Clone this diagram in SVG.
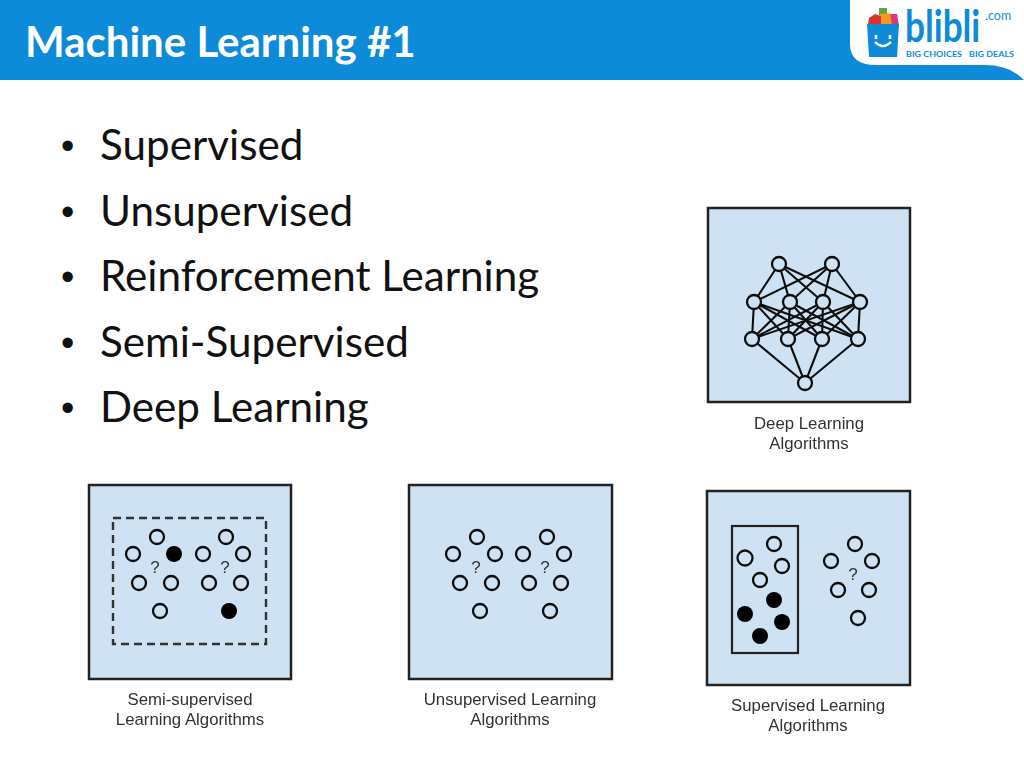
<svg xmlns="http://www.w3.org/2000/svg" width="1024" height="768" viewBox="0 0 1024 768">
<defs><filter id="soft" x="-5%" y="-5%" width="110%" height="110%"><feGaussianBlur stdDeviation="0.45"/></filter></defs>
<style>
.panel{fill:#cfe2f3;stroke:#222;stroke-width:2.5}
.n{fill:none;stroke:#111;stroke-width:2.3}
.deep{fill:#cfe2f3;stroke:#111;stroke-width:2.3}
.f{fill:#000}
.e line{stroke:#111;stroke-width:2.1}
.q{font:17px "Liberation Sans",Arial,sans-serif;fill:#333;text-anchor:middle}
.cap{font:16.8px "Liberation Sans",Arial,sans-serif;fill:#333;text-anchor:middle}
.body{font:42.2px Lato,"Open Sans",sans-serif;fill:#111}
.bul{font:38px "Liberation Sans",Arial,sans-serif;fill:#111}
.title{font:bold 42px Lato,"Open Sans",sans-serif;fill:#fff}
.logo{font-family:Lato,"Open Sans",sans-serif;fill:#0d8bd9}
</style>
<rect id="page" width="1024" height="768" fill="#fff"/>
<g id="header">
<rect width="1024" height="80" fill="#0d8bd9"/>
<path d="M850 0V44Q850 65 876 65H985Q1010 65 1024 80V0Z" fill="#fff"/>
<text class="title" x="25" y="57">Machine Learning #1</text>
</g>
<g id="logo">
<rect x="879" y="8" width="8" height="7" fill="#5aa83c"/>
<path d="M881 25L885 14L897 14L899 25Z" fill="#d8397a"/>
<path d="M878 25L880 14L890 13L892 25Z" fill="#f39a1f"/>
<path d="M868 25L869 18L875 14L881 16L881 25Z" fill="#d8322f"/>
<path d="M867 24H899L897 57H869Z" fill="#0d8bd9"/>
<path d="M876 35V39M890 35V39" stroke="#fff" stroke-width="2.6" fill="none"/>
<path d="M875 42Q883 50 891 42" stroke="#fff" stroke-width="2.4" fill="none"/>
<text class="logo" transform="translate(905 42) scale(0.8 1)" font-size="44" font-weight="700">blibli</text>
<text class="logo" x="985" y="20" font-size="12.5">.com</text>
<text class="logo" x="906" y="57" font-size="8" font-weight="700" textLength="56" lengthAdjust="spacingAndGlyphs">BIG CHOICES</text>
<text class="logo" x="969" y="57" font-size="8" font-weight="700" textLength="45" lengthAdjust="spacingAndGlyphs">BIG DEALS</text>
</g>
<g id="bullets">
<text class="bul" x="61" y="159">•</text><text class="body" x="100" y="160">Supervised</text>
<text class="bul" x="61" y="225">•</text><text class="body" x="100" y="226">Unsupervised</text>
<text class="bul" x="61" y="290">•</text><text class="body" x="100" y="291">Reinforcement Learning</text>
<text class="bul" x="61" y="356">•</text><text class="body" x="100" y="357">Semi-Supervised</text>
<text class="bul" x="61" y="421">•</text><text class="body" x="100" y="422">Deep Learning</text>
</g>
<g filter="url(#soft)">
<g id="deep-panel"><rect class="panel" x="708" y="208" width="202" height="194"/>
<text class="cap" x="809" y="429">Deep Learning</text><text class="cap" x="809" y="449">Algorithms</text></g>
<g id="deep-connectors" class="e">
<line x1="779" y1="264" x2="754" y2="302"/><line x1="779" y1="264" x2="790" y2="302"/><line x1="779" y1="264" x2="823" y2="302"/><line x1="779" y1="264" x2="860" y2="302"/>
<line x1="832" y1="264" x2="754" y2="302"/><line x1="832" y1="264" x2="790" y2="302"/><line x1="832" y1="264" x2="823" y2="302"/><line x1="832" y1="264" x2="860" y2="302"/>
<line x1="754" y1="302" x2="752" y2="339"/><line x1="754" y1="302" x2="788" y2="339"/><line x1="754" y1="302" x2="822" y2="339"/><line x1="754" y1="302" x2="858" y2="339"/>
<line x1="790" y1="302" x2="752" y2="339"/><line x1="790" y1="302" x2="788" y2="339"/><line x1="790" y1="302" x2="822" y2="339"/><line x1="790" y1="302" x2="858" y2="339"/>
<line x1="823" y1="302" x2="752" y2="339"/><line x1="823" y1="302" x2="788" y2="339"/><line x1="823" y1="302" x2="822" y2="339"/><line x1="823" y1="302" x2="858" y2="339"/>
<line x1="860" y1="302" x2="752" y2="339"/><line x1="860" y1="302" x2="788" y2="339"/><line x1="860" y1="302" x2="822" y2="339"/><line x1="860" y1="302" x2="858" y2="339"/>
<line x1="752" y1="339" x2="805" y2="383"/><line x1="788" y1="339" x2="805" y2="383"/><line x1="822" y1="339" x2="805" y2="383"/><line x1="858" y1="339" x2="805" y2="383"/>
</g>
<g id="deep-nodes">
<circle class="deep" cx="779" cy="264" r="7"/><circle class="deep" cx="832" cy="264" r="7"/>
<circle class="deep" cx="754" cy="302" r="7"/><circle class="deep" cx="790" cy="302" r="7"/><circle class="deep" cx="823" cy="302" r="7"/><circle class="deep" cx="860" cy="302" r="7"/>
<circle class="deep" cx="752" cy="339" r="7"/><circle class="deep" cx="788" cy="339" r="7"/><circle class="deep" cx="822" cy="339" r="7"/><circle class="deep" cx="858" cy="339" r="7"/>
<circle class="deep" cx="805" cy="383" r="7"/>
</g>
<g id="semi-panel"><rect class="panel" x="89" y="485" width="202" height="194"/>
<rect x="113" y="518" width="153" height="126" fill="none" stroke="#333" stroke-width="2.4" stroke-dasharray="8 5"/>
<text class="cap" x="190" y="705">Semi-supervised</text><text class="cap" x="190" y="725">Learning Algorithms</text>
<circle class="n" cx="157" cy="537" r="7"/><circle class="n" cx="133" cy="554" r="7"/><circle class="f" cx="174" cy="554" r="8"/><circle class="n" cx="139" cy="583" r="7"/><circle class="n" cx="171" cy="583" r="7"/><circle class="n" cx="160" cy="611" r="7"/>
<circle class="n" cx="226" cy="537" r="7"/><circle class="n" cx="203" cy="554" r="7"/><circle class="n" cx="243" cy="554" r="7"/><circle class="n" cx="209" cy="583" r="7"/><circle class="n" cx="241" cy="583" r="7"/><circle class="f" cx="229" cy="611" r="8"/>
<text class="q" x="155" y="573">?</text><text class="q" x="225" y="573">?</text></g>
<g id="unsupervised-panel"><rect class="panel" x="409" y="485" width="203" height="194"/>
<text class="cap" x="510" y="705">Unsupervised Learning</text><text class="cap" x="510" y="725">Algorithms</text>
<circle class="n" cx="477" cy="537" r="7"/><circle class="n" cx="453" cy="554" r="7"/><circle class="n" cx="495" cy="554" r="7"/><circle class="n" cx="460" cy="583" r="7"/><circle class="n" cx="492" cy="583" r="7"/><circle class="n" cx="480" cy="611" r="7"/>
<circle class="n" cx="547" cy="537" r="7"/><circle class="n" cx="523" cy="554" r="7"/><circle class="n" cx="564" cy="554" r="7"/><circle class="n" cx="529" cy="583" r="7"/><circle class="n" cx="561" cy="583" r="7"/><circle class="n" cx="550" cy="611" r="7"/>
<text class="q" x="476" y="573">?</text><text class="q" x="545" y="573">?</text></g>
<g id="supervised-panel"><rect class="panel" x="707" y="491" width="203" height="194"/>
<rect x="732" y="526" width="66" height="127" fill="none" stroke="#222" stroke-width="2.2"/>
<text class="cap" x="808" y="711">Supervised Learning</text><text class="cap" x="808" y="731">Algorithms</text>
<circle class="n" cx="774" cy="544" r="7"/><circle class="n" cx="745" cy="558" r="7.5"/><circle class="n" cx="782" cy="566" r="7"/><circle class="n" cx="760" cy="580" r="7"/>
<circle class="f" cx="774" cy="600" r="8"/><circle class="f" cx="745" cy="614" r="8"/><circle class="f" cx="782" cy="622" r="8"/><circle class="f" cx="760" cy="636" r="8"/>
<circle class="n" cx="855" cy="544" r="7"/><circle class="n" cx="831" cy="561" r="7"/><circle class="n" cx="872" cy="561" r="7"/><circle class="n" cx="838" cy="590" r="7"/><circle class="n" cx="869" cy="590" r="7"/><circle class="n" cx="858" cy="618" r="7"/>
<text class="q" x="853" y="580">?</text></g>
</g>
</svg>
